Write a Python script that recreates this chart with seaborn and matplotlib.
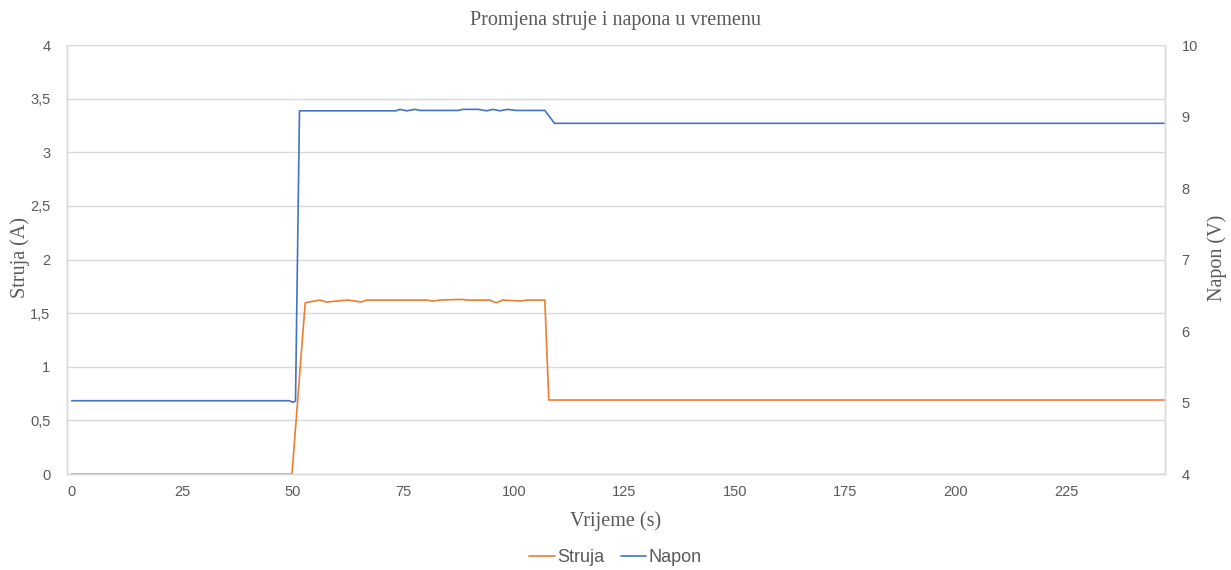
import matplotlib
matplotlib.use("Agg")
import matplotlib.pyplot as plt
from matplotlib.ticker import FuncFormatter, MultipleLocator
import pandas as pd
import seaborn as sns

# current (A)
vrijeme_struja = [0, 49.8, 52.8, 56.1, 57.6, 62.5, 65.5, 66.7, 80.3, 81.7, 83.4,
                  87.8, 89.9, 94.5, 96.0, 97.5, 101.4, 103.1, 107.0, 107.9, 247.1]
struja = [0, 0, 1.597, 1.622, 1.604, 1.622, 1.604, 1.622, 1.622, 1.613, 1.622,
          1.628, 1.622, 1.622, 1.597, 1.622, 1.613, 1.622, 1.622, 0.69, 0.69]

# voltage (V)
vrijeme_napon = [0, 49.2, 50.0, 50.6, 51.5, 73.3, 74.2, 75.8, 77.6, 78.8, 87.4,
                 88.4, 92.0, 93.8, 95.3, 96.8, 98.6, 100.6, 107.0, 109.2, 247.1]
napon = [5.025, 5.025, 5.003, 5.02, 9.08, 9.08, 9.10, 9.08, 9.10, 9.085, 9.085,
         9.10, 9.10, 9.08, 9.10, 9.08, 9.10, 9.085, 9.085, 8.905, 8.905]

x_ticks = [0, 25, 50, 75, 100, 125, 150, 175, 200, 225]

df_s = pd.DataFrame({"t": vrijeme_struja, "v": struja})
df_n = pd.DataFrame({"t": vrijeme_napon, "v": napon})

sns.set_theme(style="white")
plt.rcParams["font.family"] = ["Liberation Sans", "DejaVu Sans"]

grey = "#595959"
grid = "#D9D9D9"
orange = "#ED7D31"
blue = "#4472C4"

fig = plt.figure(figsize=(12.31, 5.70), dpi=100)
ax = fig.add_axes([0.0544, 0.1684, 0.892, 0.7526])
ax2 = ax.twinx()

sns.lineplot(data=df_s, x="t", y="v", ax=ax, color=orange, lw=1.2,
             label="Struja", legend=False)
sns.lineplot(data=df_n, x="t", y="v", ax=ax2, color=blue, lw=1.2,
             label="Napon", legend=False)

ax.set_xlim(-1.1, 247.3)
ax.set_ylim(0, 4)
ax2.set_ylim(4, 10)
ax.set_xticks(x_ticks)
ax.yaxis.set_major_locator(MultipleLocator(0.5))
ax2.yaxis.set_major_locator(MultipleLocator(1))
comma = FuncFormatter(lambda v, p: f"{v:g}".replace(".", ","))
ax.yaxis.set_major_formatter(comma)
ax2.yaxis.set_major_formatter(comma)

ax.yaxis.grid(True, color=grid, lw=1)
ax.set_axisbelow(True)
for a in (ax, ax2):
    a.tick_params(length=0, labelsize=10.5, labelcolor=grey)
    for side in ("left", "right", "bottom"):
        a.spines[side].set_color(grid)
        a.spines[side].set_linewidth(1)
    a.spines["top"].set_visible(False)
ax.tick_params(axis="y", pad=12)
ax2.tick_params(axis="y", pad=12)
ax.tick_params(axis="x", pad=8)

serif = ["Liberation Serif", "DejaVu Serif"]
ax.set_xlabel("Vrijeme (s)", family=serif, fontsize=14.5, color=grey)
ax.set_ylabel("Struja (A)", family=serif, fontsize=14.5, color=grey)
ax2.set_ylabel("Napon (V)", family=serif, fontsize=14.5, color=grey)
ax.xaxis.set_label_coords(0.5, -0.086)
ax.yaxis.set_label_coords(-0.0337, 0.505)
ax2.yaxis.set_label_coords(1.0383, 0.505)
fig.suptitle("Promjena struje i napona u vremenu", family=serif, fontsize=14.5,
             color=grey, y=0.98)

h1, l1 = ax.get_legend_handles_labels()
h2, l2 = ax2.get_legend_handles_labels()
fig.legend(h1 + h2, l1 + l2, loc="center", bbox_to_anchor=(0.5, 0.022), ncol=2,
           frameon=False, fontsize=13, labelcolor=grey, handlelength=1.4,
           handletextpad=0.15, columnspacing=0.9)

fig.savefig("out.png", dpi=100)
